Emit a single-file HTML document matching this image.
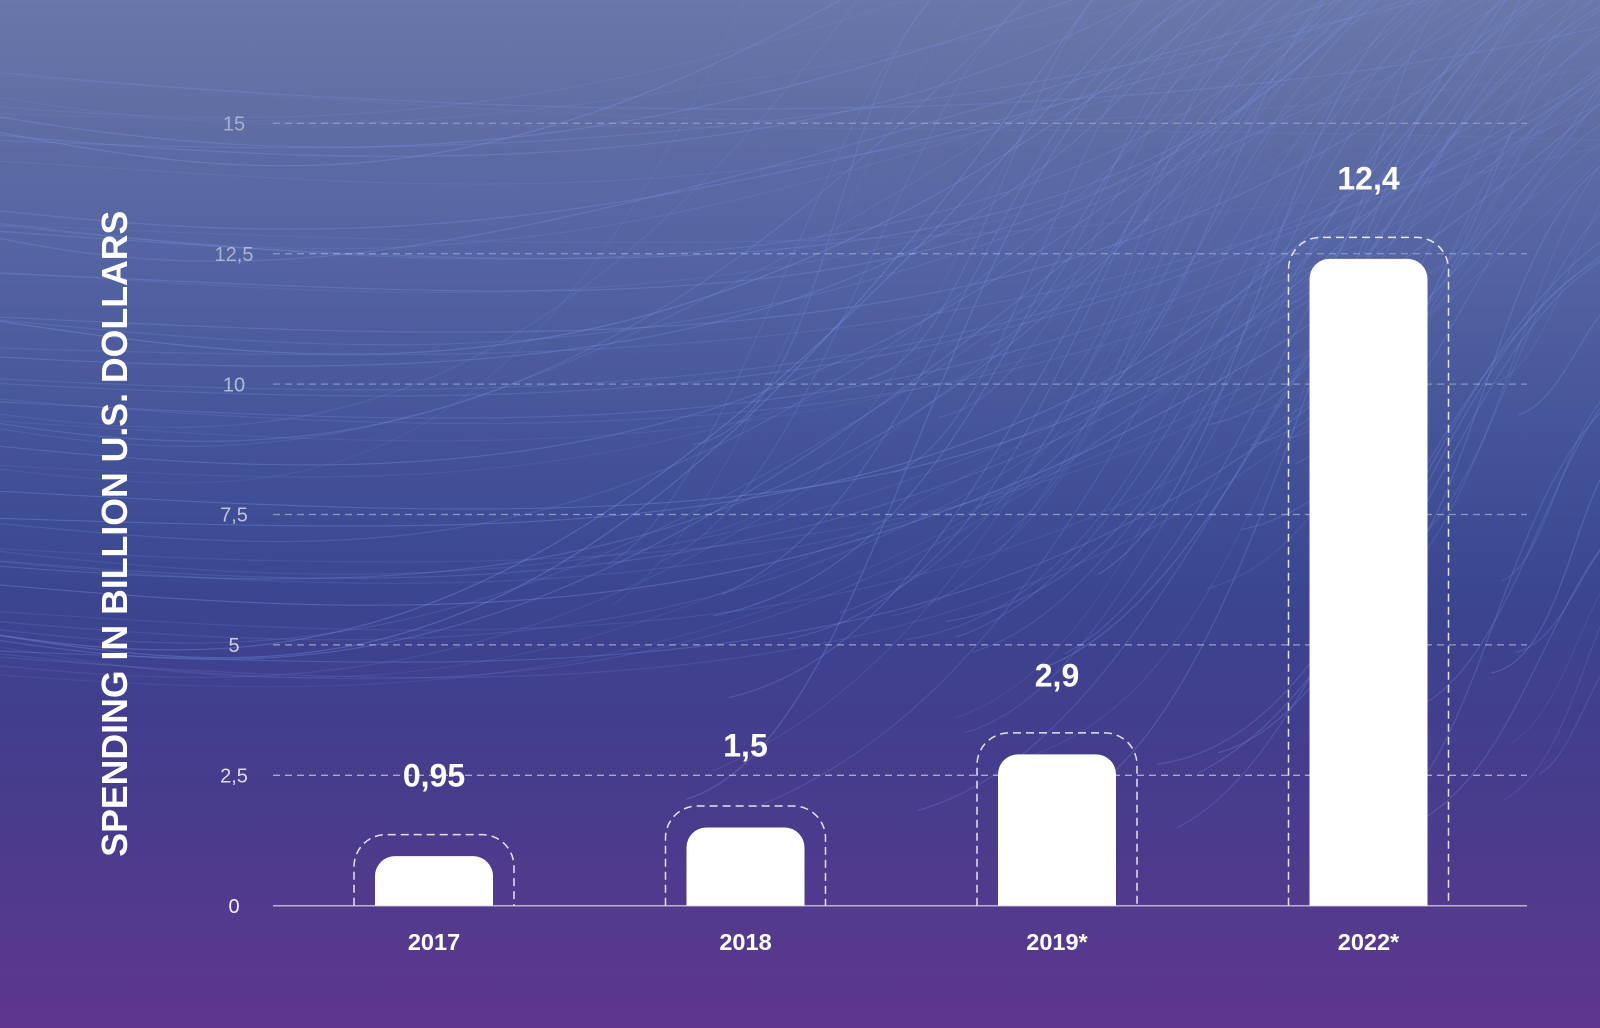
<!DOCTYPE html>
<html>
<head>
<meta charset="utf-8">
<style>
  html, body { margin: 0; padding: 0; width: 1600px; height: 1028px; overflow: hidden; background: #4a4a96; }
  svg { display: block; }
  text { font-family: "Liberation Sans", "DejaVu Sans", sans-serif; }
</style>
</head>
<body>
<svg id="chart" width="1600" height="1028" viewBox="0 0 1600 1028" xmlns="http://www.w3.org/2000/svg">
  <defs>
    <linearGradient id="bg" x1="0" y1="0" x2="0" y2="1">
      <stop offset="0" stop-color="#6a77a8"/>
      <stop offset="0.08" stop-color="#6370a5"/>
      <stop offset="0.25" stop-color="#5463a2"/>
      <stop offset="0.40" stop-color="#47569a"/>
      <stop offset="0.52" stop-color="#3d4b93"/>
      <stop offset="0.60" stop-color="#3c448f"/>
      <stop offset="0.70" stop-color="#423e8d"/>
      <stop offset="0.82" stop-color="#4b3b8c"/>
      <stop offset="0.90" stop-color="#543a8d"/>
      <stop offset="1" stop-color="#5f358f"/>
    </linearGradient>
  </defs>
  <rect x="0" y="0" width="1600" height="1028" fill="url(#bg)"/>

  <!-- strands texture -->
  <g id="strands" fill="none" stroke="#7896e6" stroke-width="1.2"></g>

  <!-- gridlines -->
  <g stroke="#ffffff" stroke-width="1.3" stroke-dasharray="7 5" fill="none">
    <line x1="273" y1="123.3" x2="1527" y2="123.3" stroke-opacity="0.26"/>
    <line x1="273" y1="253.7" x2="1527" y2="253.7" stroke-opacity="0.3"/>
    <line x1="273" y1="384.1" x2="1527" y2="384.1" stroke-opacity="0.35"/>
    <line x1="273" y1="514.5" x2="1527" y2="514.5" stroke-opacity="0.42"/>
    <line x1="273" y1="644.9" x2="1527" y2="644.9" stroke-opacity="0.48"/>
    <line x1="273" y1="775.3" x2="1527" y2="775.3" stroke-opacity="0.55"/>
  </g>
  <line x1="273" y1="905.7" x2="1527" y2="905.7" stroke="#ffffff" stroke-opacity="0.6" stroke-width="1.5"/>

  <!-- tick labels -->
  <g font-size="20" fill="#ffffff" text-anchor="middle">
    <text x="234" y="130.5" fill-opacity="0.45">15</text>
    <text x="234" y="260.9" fill-opacity="0.5">12,5</text>
    <text x="234" y="391.3" fill-opacity="0.58">10</text>
    <text x="234" y="521.7" fill-opacity="0.66">7,5</text>
    <text x="234" y="652.1" fill-opacity="0.74">5</text>
    <text x="234" y="782.5" fill-opacity="0.82">2,5</text>
    <text x="234" y="912.9" fill-opacity="0.92">0</text>
  </g>

  <!-- y axis title -->
  <text transform="translate(127,533.7) rotate(-90)" text-anchor="middle" font-size="36" font-weight="bold" fill="#ffffff" textLength="646" lengthAdjust="spacingAndGlyphs">SPENDING IN BILLION U.S. DOLLARS</text>

  <!-- dashed outlines -->
  <g fill="none" stroke="#ffffff" stroke-opacity="0.85" stroke-width="1.5" stroke-dasharray="8 5">
    <path d="M354 905.7 V866.6 A32 32 0 0 1 386 834.6 H482 A32 32 0 0 1 514 866.6 V905.7"/>
    <path d="M665.5 905.7 V838 A32 32 0 0 1 697.5 806 H793.5 A32 32 0 0 1 825.5 838 V905.7"/>
    <path d="M977 905.7 V764.9 A32 32 0 0 1 1009 732.9 H1105 A32 32 0 0 1 1137 764.9 V905.7"/>
    <path d="M1288.5 905.7 V269.4 A32 32 0 0 1 1320.5 237.4 H1416.5 A32 32 0 0 1 1448.5 269.4 V905.7"/>
  </g>

  <!-- bars -->
  <g fill="#ffffff">
    <path d="M375 905.7 V876.1 A20 20 0 0 1 395 856.1 H473 A20 20 0 0 1 493 876.1 V905.7 Z"/>
    <path d="M686.5 905.7 V847.5 A20 20 0 0 1 706.5 827.5 H784.5 A20 20 0 0 1 804.5 847.5 V905.7 Z"/>
    <path d="M998 905.7 V774.4 A20 20 0 0 1 1018 754.4 H1096 A20 20 0 0 1 1116 774.4 V905.7 Z"/>
    <path d="M1309.5 905.7 V278.9 A20 20 0 0 1 1329.5 258.9 H1407.5 A20 20 0 0 1 1427.5 278.9 V905.7 Z"/>
  </g>

  <!-- value labels -->
  <g font-size="32" font-weight="bold" fill="#ffffff" text-anchor="middle">
    <text x="434" y="786.5">0,95</text>
    <text x="745.5" y="756.5">1,5</text>
    <text x="1057" y="686.5">2,9</text>
    <text x="1368.5" y="189.5">12,4</text>
  </g>

  <!-- category labels -->
  <g font-size="23.5" font-weight="bold" fill="#ffffff" text-anchor="middle">
    <text x="434" y="950">2017</text>
    <text x="745.5" y="950">2018</text>
    <text x="1057" y="950">2019*</text>
    <text x="1368.5" y="950">2022*</text>
  </g>
</svg>
<script>
(function(){
  var s = 12345;
  function r(){ s = (s * 16807) % 2147483647; return (s - 1) / 2147483646; }
  function f(v){ return v.toFixed(1); }
  var out = [];
  // Family 1: strands entering from the left, sweeping up to top/right
  for (var i = 0; i < 55; i++) {
    var y0 = 50 + r() * 650;
    var xt = 450 + r() * 850;
    var xe = xt + 250 + r() * 650;
    var ye = -30;
    if (xe > 1620) { ye = Math.min((xe - 1620) * 0.35, 200); xe = 1640; }
    var c1y = y0 + 20 + r() * 60;
    var c2y = y0 + 10 + r() * 90;
    var op = 0.12 + r() * 0.25;
    out.push('<path d="M-30 ' + f(y0) + ' C' + f(xt * 0.55) + ' ' + f(c1y) + ' ' + f(xt) + ' ' + f(c2y) + ' ' + f(xe) + ' ' + f(ye) + '" stroke-opacity="' + op.toFixed(2) + '"/>');
  }
  // Family 2: rising S-shaped strands in right half
  for (var j = 0; j < 65; j++) {
    var x1 = 600 + r() * 950;
    var y1 = 300 + r() * 550;
    var slope = 1.0 + r() * 0.8;
    var L = (y1 + 30) / slope;
    var x2 = x1 + L, y2 = -30;
    if (x2 > 1640) { x2 = 1640; y2 = y1 - (1640 - x1) * slope; }
    var dx = x2 - x1, dy = y2 - y1;
    var c1x = x1 + dx * (0.35 + r() * 0.2), c1y2 = y1 + dy * (0.05 + r() * 0.15);
    var c2x = x2 - dx * (0.35 + r() * 0.2), c2y2 = y2 - dy * (0.05 + r() * 0.15);
    var op2 = 0.12 + r() * 0.22;
    out.push('<path d="M' + f(x1) + ' ' + f(y1) + ' C' + f(c1x) + ' ' + f(c1y2) + ' ' + f(c2x) + ' ' + f(c2y2) + ' ' + f(x2) + ' ' + f(y2) + '" stroke-opacity="' + op2.toFixed(2) + '"/>');
  }
  document.getElementById('strands').innerHTML = out.join('');
})();
</script>
</body>
</html>
